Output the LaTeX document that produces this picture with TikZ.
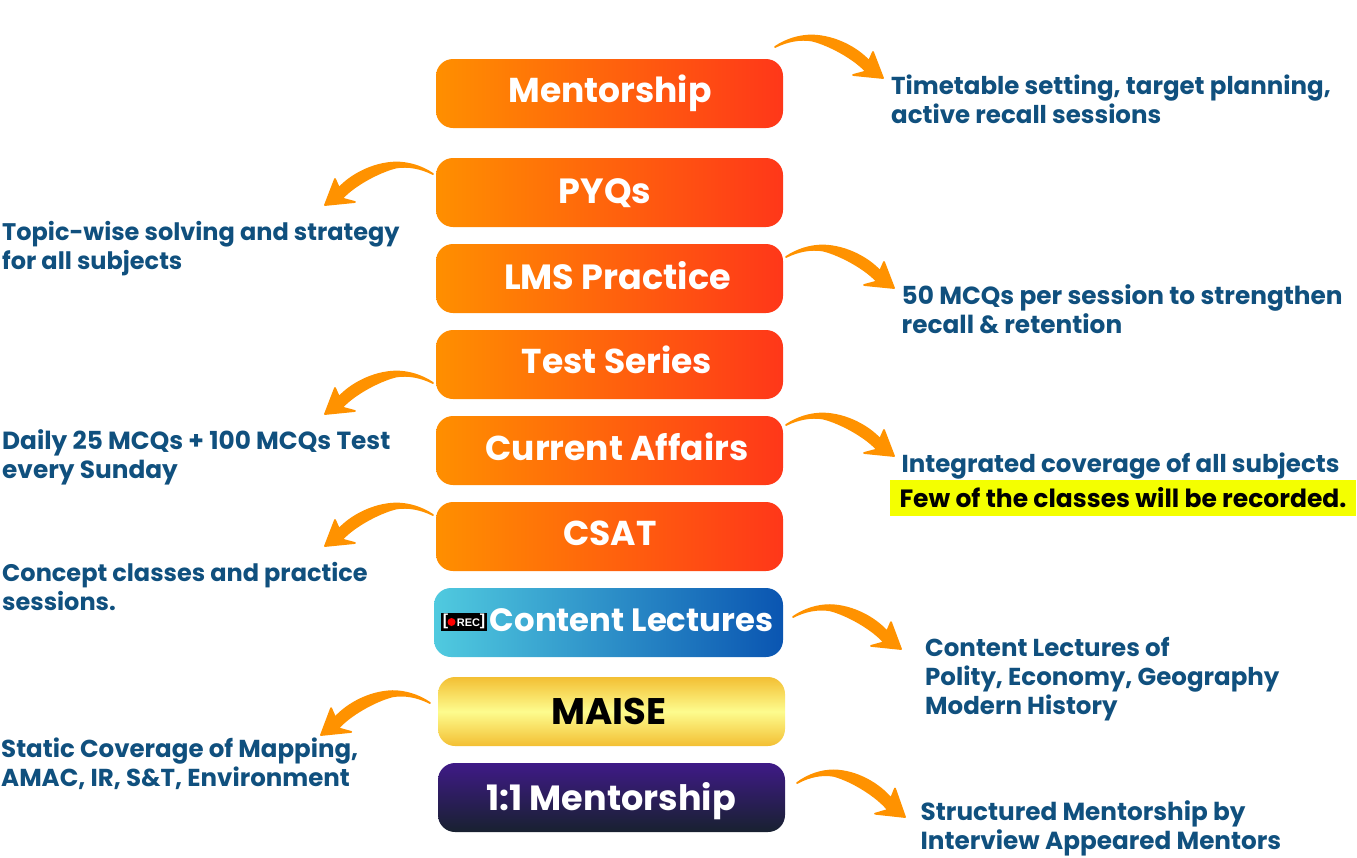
\documentclass[tikz,border=0pt]{standalone}
\usepackage{fontspec}
\setmainfont{Poppins}
\newfontfamily\recfont{Liberation Sans}
\usetikzlibrary{calc}
\definecolor{navy}{HTML}{10507E}
\definecolor{swooshc}{HTML}{FF9200}
\definecolor{orA}{HTML}{FF8F00}
\definecolor{orB}{HTML}{FF3719}
\definecolor{blA}{HTML}{50CADF}
\definecolor{blB}{HTML}{0A55B1}
\definecolor{goA}{HTML}{F3BF33}
\definecolor{goB}{HTML}{FDFC8E}
\definecolor{puA}{HTML}{3F1A87}
\definecolor{puB}{HTML}{182130}
\definecolor{hl}{HTML}{F4FF00}
\newcommand\barfont[1]{\fontsize{#1}{40}\selectfont\bfseries}
\newcommand\notefont[1]{\fontsize{#1}{29}\selectfont\bfseries}
\tikzset{
  bar/.style={minimum width=347pt,minimum height=69pt,rounded corners=17pt,inner sep=0pt,
    font=\barfont{34.5},text=white,text depth=0pt},
  bl/.style={text height=#1},
  orbar/.style={bar,left color=orA,right color=orB},
  blbar/.style={bar,minimum width=349pt,left color=blA,right color=blB},
  gobar/.style={bar,text=black,top color=goA,bottom color=goA,middle color=goB},
  pubar/.style={bar,top color=puA,bottom color=puB},
  note/.style={anchor=north west,inner sep=0pt,text=navy,align=left,font=\notefont{24.5}},
  swoosh/.pic={
    \fill[swooshc,draw=swooshc,line width=1.8pt,line join=round]
      (0,0) .. controls (12,-8) and (25,-11.5) .. (37,-11.5)
      .. controls (60,-11) and (82,1) .. (94,14)
      -- (98,5) -- (108,31) -- (78,28) -- (91,24.5)
      .. controls (80,12) and (55,-2) .. (37,-6.5)
      .. controls (25,-8.5) and (12,-6) .. (0,0) -- cycle;
  }
}
\newcommand\swooshto[2]{%
  \path let \p1=(#1),\p2=(#2),\n1={(\x2-\x1)/108},\n2={(\y2-\y1)/(-31)} in
    pic[xscale=\n1,yscale=\n2] at (#1) {swoosh};}
\begin{document}
\begin{tikzpicture}[x=1pt,y=-1pt]
\useasboundingbox (0,0) rectangle (1357,857);
% bars
\node[orbar,bl=17pt] (mentor) at (609.5,93.5) {\hspace*{1pt}Mentorship};
\node[orbar,bl=21.6pt,font=\barfont{35}] (pyq) at (609.5,192.5) {PYQs\hspace*{9pt}};
\node[orbar,bl=21pt,font=\barfont{35}] (lms) at (609.5,278.5) {\hspace*{16pt}LMS Practice};
\node[orbar,bl=17pt] (test) at (609.5,364.5) {\hspace*{15pt}Test Series};
\node[orbar,bl=19.6pt] (ca) at (609.5,450.5) {\hspace*{15pt}Current Affairs};
\node[orbar,bl=17pt] (csat) at (609.5,536.5) {\hspace*{1pt}CSAT};
\node[blbar,bl=17pt,font=\barfont{32.3}] (content) at (608.5,622.5) {\hspace*{46pt}Content Lectures};
\node[gobar,bl=25.6pt,font=\barfont{37}] (maise) at (611.5,711.5) {MAISE\hspace*{5pt}};
\node[pubar,bl=25.6pt,font=\barfont{35}] (one) at (611.5,797.5) {\hspace*{-1pt}1:1 Mentorship};
% rec icon
\node[fill=black,minimum width=46pt,minimum height=18pt,inner sep=0pt] (rec) at (464,622) {};
\node[text=white,inner sep=0pt,font=\recfont\fontsize{11}{12}\selectfont\bfseries] (rect) at (468.5,622.5) {REC};
\node[text=white,inner sep=0pt,font=\recfont\fontsize{16}{17}\selectfont\bfseries] (recl) at (445.5,621) {[};
\node[text=white,inner sep=0pt,font=\recfont\fontsize{16}{17}\selectfont\bfseries] (recr) at (482.5,621) {]};
\node[fill=red,circle,minimum size=8pt,inner sep=0pt] (recd) at (451.5,622) {};
% notes
\node[note] (n1) at (891,75) {Timetable setting, target planning,\\active recall sessions};
\node[note,font=\notefont{24}] (n2) at (2,221) {Topic-wise solving and strategy\\for all subjects};
\node[note,font=\notefont{24.8}] (n3) at (901.5,284) {50 MCQs per session to strengthen\\recall \& retention};
\node[note,font=\notefont{24.8}] (n4) at (2,429) {Daily 25 MCQs + 100 MCQs Test\\every Sunday};
\node[note] (n5) at (901.5,453) {Integrated coverage of all subjects};
\node[fill=hl,minimum width=466pt,minimum height=36pt,inner sep=0pt,text=black,
  font=\notefont{25}] (n5b) at (1123,498) {\raisebox{1pt}{Few of the classes will be recorded.}};
\node[note,font=\notefont{24}] (n6) at (2,562) {Concept classes and practice\\sessions.};
\node[note] (n7) at (925,637) {Content Lectures of\\Polity, Economy, Geography\\Modern History};
\node[note,font=\notefont{24.5}] (n8) at (1,738) {Static Coverage of Mapping,\\AMAC, IR, S\&T, Environment};
\node[note,font=\notefont{24.7}] (n9) at (920.5,801) {Structured Mentorship by\\Interview Appeared Mentors};
% swooshes
\coordinate (s1) at (775,47);  \coordinate (t1) at (883,78);
\coordinate (s2) at (433,174); \coordinate (t2) at (325,205);
\coordinate (s3) at (786,257); \coordinate (t3) at (894,288);
\coordinate (s4) at (433,383); \coordinate (t4) at (325,414);
\coordinate (s5) at (786,425); \coordinate (t5) at (894,456);
\coordinate (s6) at (433,515); \coordinate (t6) at (325,546);
\coordinate (s7) at (793,617); \coordinate (t7) at (901,649);
\coordinate (s8) at (430,703); \coordinate (t8) at (321,735);
\coordinate (s9) at (797,783); \coordinate (t9) at (905,817);
\foreach \i in {1,...,9}{\swooshto{s\i}{t\i}}
\end{tikzpicture}
\end{document}
